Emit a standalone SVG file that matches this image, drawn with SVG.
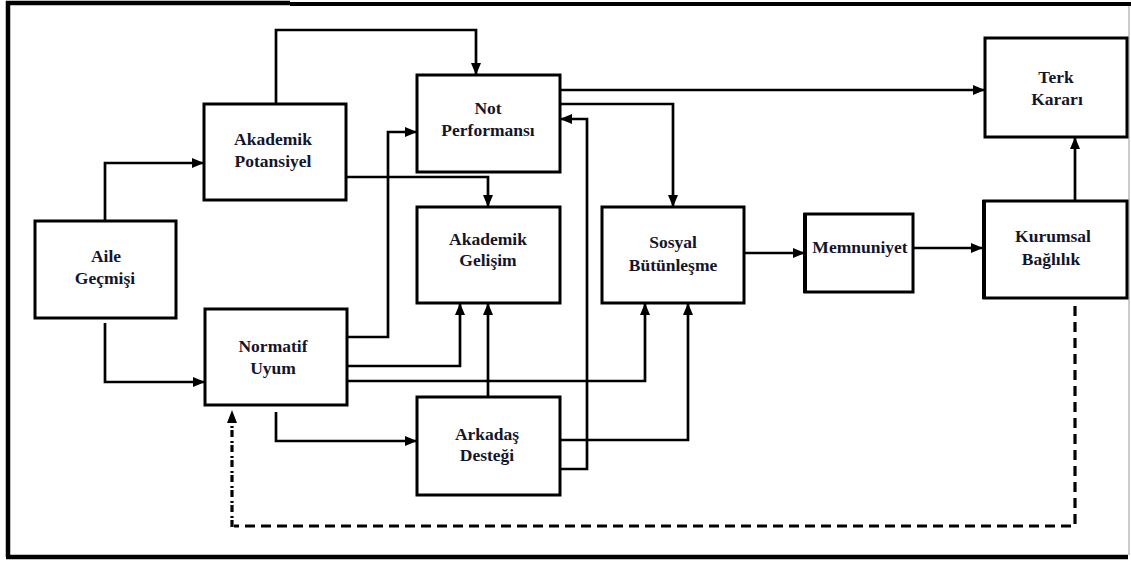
<svg xmlns="http://www.w3.org/2000/svg" width="1131" height="563" viewBox="0 0 1131 563">
  <defs>
    <marker id="arrow" viewBox="0 0 12 10" refX="11" refY="5" markerWidth="12" markerHeight="10" markerUnits="userSpaceOnUse" orient="auto">
      <path d="M0,0 L12,5 L0,10 Z" fill="#000"/>
    </marker>
    <style>
      .box { fill: #fff; stroke: #000; stroke-width: 3; }
      .lbl { font-family: "Liberation Serif", "Times New Roman", serif; font-weight: bold; font-size: 17.5px; fill: #15152a; text-anchor: middle; }
      .wire { fill: none; stroke: #000; stroke-width: 2.7; }
      .dash { fill: none; stroke: #000; stroke-width: 3.2; stroke-dasharray: 10 6; }
      .dashdot { fill: none; stroke: #000; stroke-width: 3.2; stroke-dasharray: 7 2 2 4; }
    </style>
  </defs>
  <rect width="1131" height="563" fill="#fff"/>

  <!-- outer frame -->
  <g id="frame" fill="none" stroke="#000">
    <path d="M8,557 L8,3 L290,3" stroke-width="4.5"/>
    <path d="M290,4 L1131,4" stroke-width="4"/>
    <path d="M6,557 L1128,557" stroke-width="4.5"/>
    <path d="M1129,6 L1129,555" stroke="#999" stroke-width="1"/>
  </g>

  <!-- connectors -->
  <g id="connectors">
    <path class="wire" d="M276,104 L276,30 L476,30 L476,74" marker-end="url(#arrow)"/>
    <path class="wire" d="M105,221 L105,163 L203,163" marker-end="url(#arrow)"/>
    <path class="wire" d="M105,323 L105,382 L204,382" marker-end="url(#arrow)"/>
    <path class="wire" d="M346,177 L488,177 L488,206" marker-end="url(#arrow)"/>
    <path class="wire" d="M347,337 L388,337 L388,132 L416,132" marker-end="url(#arrow)"/>
    <path class="wire" d="M347,366 L460,366 L460,304" marker-end="url(#arrow)"/>
    <path class="wire" d="M347,381 L645,381 L645,304" marker-end="url(#arrow)"/>
    <path class="wire" d="M276,412 L276,441 L416,441" marker-end="url(#arrow)"/>
    <path class="wire" d="M488,397 L488,304" marker-end="url(#arrow)"/>
    <path class="wire" d="M560,440 L688,440 L688,304" marker-end="url(#arrow)"/>
    <path class="wire" d="M560,469 L587,469 L587,119 L561,119" marker-end="url(#arrow)"/>
    <path class="wire" d="M560,90 L984,90" stroke-width="3" marker-end="url(#arrow)"/>
    <path class="wire" d="M560,104 L673,104 L673,206" marker-end="url(#arrow)"/>
    <path class="wire" d="M745,253 L804,253" marker-end="url(#arrow)"/>
    <path class="wire" d="M913,248 L982,248" marker-end="url(#arrow)"/>
    <path class="wire" d="M1075,201 L1075,138" marker-end="url(#arrow)"/>
    <path class="dash" d="M1075,306 L1075,526 L234,526"/>
    <path class="dashdot" d="M232,527 L232,424"/>
    <path d="M232,410 L237,423 L227,423 Z" fill="#000"/>
  </g>

  <!-- nodes -->
  <g id="aile-gecmisi">
    <rect class="box" x="35" y="221" width="141" height="97"/>
    <text class="lbl" x="106" y="262">Aile</text>
    <text class="lbl" x="105" y="284">Geçmişi</text>
  </g>
  <g id="akademik-potansiyel">
    <rect class="box" x="204" y="104" width="142" height="96"/>
    <text class="lbl" x="273" y="145">Akademik</text>
    <text class="lbl" x="273" y="167">Potansiyel</text>
  </g>
  <g id="normatif-uyum">
    <rect class="box" x="205" y="309" width="142" height="96"/>
    <text class="lbl" x="273" y="352">Normatif</text>
    <text class="lbl" x="273" y="374">Uyum</text>
  </g>
  <g id="not-performansi">
    <rect class="box" x="417" y="75" width="143" height="97"/>
    <text class="lbl" x="488" y="114">Not</text>
    <text class="lbl" x="488" y="136">Performansı</text>
  </g>
  <g id="akademik-gelisim">
    <rect class="box" x="417" y="207" width="143" height="96"/>
    <text class="lbl" x="488" y="245">Akademik</text>
    <text class="lbl" x="488" y="266">Gelişim</text>
  </g>
  <g id="arkadas-destegi">
    <rect class="box" x="417" y="397" width="143" height="98"/>
    <text class="lbl" x="487" y="440">Arkadaş</text>
    <text class="lbl" x="487" y="461">Desteği</text>
  </g>
  <g id="sosyal-butunlesme">
    <rect class="box" x="602" y="207" width="142" height="96"/>
    <text class="lbl" x="673" y="248">Sosyal</text>
    <text class="lbl" x="673" y="271">Bütünleşme</text>
  </g>
  <g id="memnuniyet">
    <rect class="box" x="805" y="214" width="108" height="78"/>
    <path d="M805,213 L805,293" stroke="#000" stroke-width="4"/>
    <text class="lbl" x="860" y="253">Memnuniyet</text>
  </g>
  <g id="kurumsal-baglilik">
    <rect class="box" x="984" y="201" width="143" height="97"/>
    <path d="M984,200 L984,299" stroke="#000" stroke-width="4"/>
    <text class="lbl" x="1053" y="242">Kurumsal</text>
    <text class="lbl" x="1051" y="265">Bağlılık</text>
  </g>
  <g id="terk-karari">
    <rect class="box" x="985" y="38" width="142" height="99"/>
    <text class="lbl" x="1056" y="83">Terk</text>
    <text class="lbl" x="1057" y="105">Kararı</text>
  </g>
</svg>
